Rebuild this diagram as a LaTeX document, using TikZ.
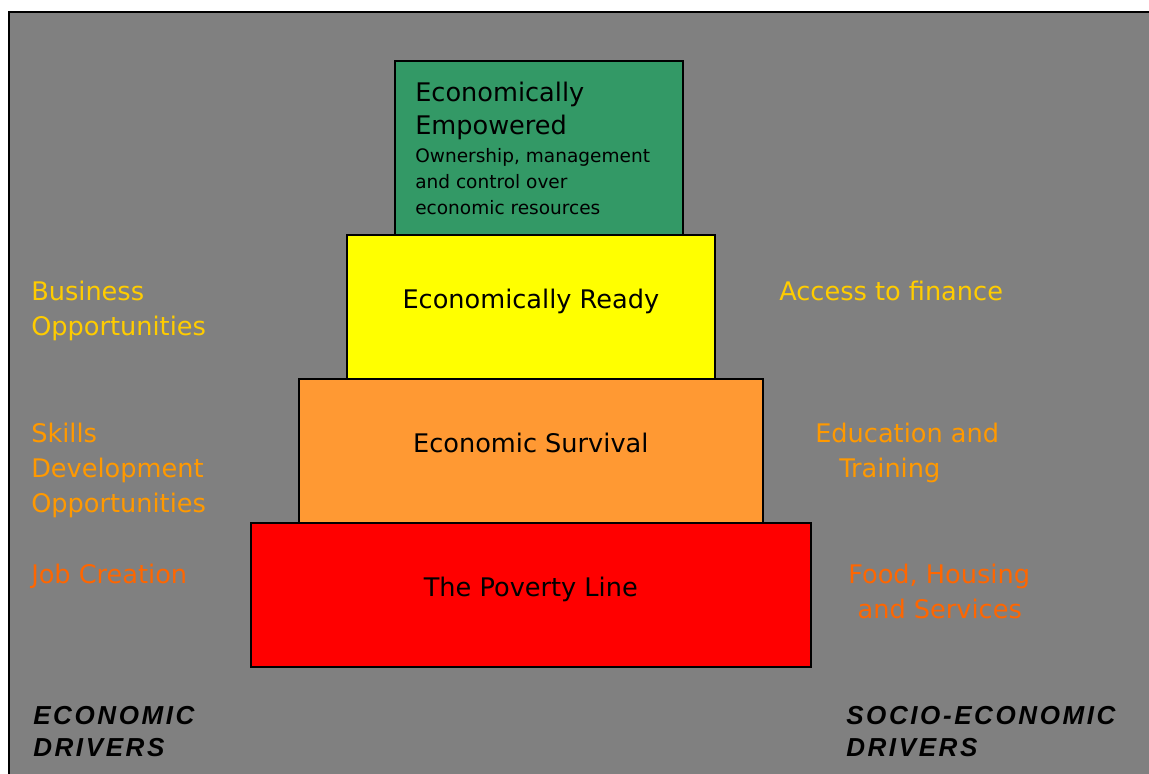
\documentclass[tikz,border=0pt]{standalone}
\usepackage{fontspec}
\setmainfont{DejaVu Sans}
\newfontfamily\driverfont[LetterSpace=10]{Liberation Sans}

\definecolor{slidegray}{HTML}{808080}
\definecolor{empgreen}{HTML}{339966}
\definecolor{readyyellow}{HTML}{FFFF00}
\definecolor{survorange}{HTML}{FF9933}
\definecolor{povred}{HTML}{FF0000}
\definecolor{goldtext}{HTML}{FFCC00}
\definecolor{orangetext}{HTML}{FF9900}
\definecolor{darkorangetext}{HTML}{FF6600}

\tikzset{
  tier/.style={draw=black, line width=1.2pt, inner sep=0pt, anchor=north west,
    text height=14pt, text depth=11pt, font=\fontsize{19.2}{26}\selectfont},
  driver/.style={inner sep=0pt, anchor=base west, align=left,
    font=\fontsize{19.2}{26.25}\selectfont},
  heading/.style={inner sep=0pt, anchor=base west, align=left,
    font=\driverfont\bfseries\itshape\fontsize{19.5}{24}\selectfont}
}

\begin{document}
\begin{tikzpicture}[x=0.75pt, y=-0.75pt]
    \useasboundingbox (0,0) rectangle (1149,774);
    \clip (0,0) rectangle (1149,774);

    % draw the slide frame
    \draw[fill=slidegray, line width=1.5pt] (9,12) rectangle (1170,800);

    % add in the tiers
    \node[tier, fill=povred, minimum width=560*0.75pt, minimum height=144*0.75pt] (poverty) at (250,522) {The Poverty Line};
    \node[tier, fill=survorange, minimum width=464*0.75pt, minimum height=144*0.75pt] (survival) at (298,378) {Economic Survival};
    \node[tier, fill=readyyellow, minimum width=368*0.75pt, minimum height=144*0.75pt] (ready) at (346,234) {Economically Ready};
    \node[tier, fill=empgreen, minimum width=288*0.75pt, minimum height=174*0.75pt] (empowered) at (394,60) {};
    % (multi-line nodes sit on their last baseline)
    \node[driver, font=\fontsize{19.2}{24.75}\selectfont] (emptitle) at (415,134) {Economically\\Empowered};
    \node[driver, font=\fontsize{13.9}{19.2}\selectfont] (empdesc) at (415,214) {Ownership, management\\and control over\\economic resources};

    % economic drivers on the left
    \node[driver, text=goldtext] (business) at (31,335) {Business\\Opportunities};
    \node[driver, text=orangetext] (skills) at (31,512) {Skills\\Development\\Opportunities};
    \node[driver, text=darkorangetext] (jobs) at (31,583) {Job Creation};

    % socio-economic drivers on the right
    \node[driver, text=goldtext] (finance) at (779,300) {Access to finance};
    \node[driver, text=orangetext] (education) at (815,477) {Education and\\\hspace*{18pt}Training};
    \node[driver, text=darkorangetext] (food) at (848,618) {Food, Housing\\\hspace*{7pt}and Services};

    % headings
    \node[heading] (econ) at (33,756) {ECONOMIC\\DRIVERS};
    \node[heading] (socio) at (846,756) {SOCIO-ECONOMIC\\DRIVERS};
\end{tikzpicture}
\end{document}
